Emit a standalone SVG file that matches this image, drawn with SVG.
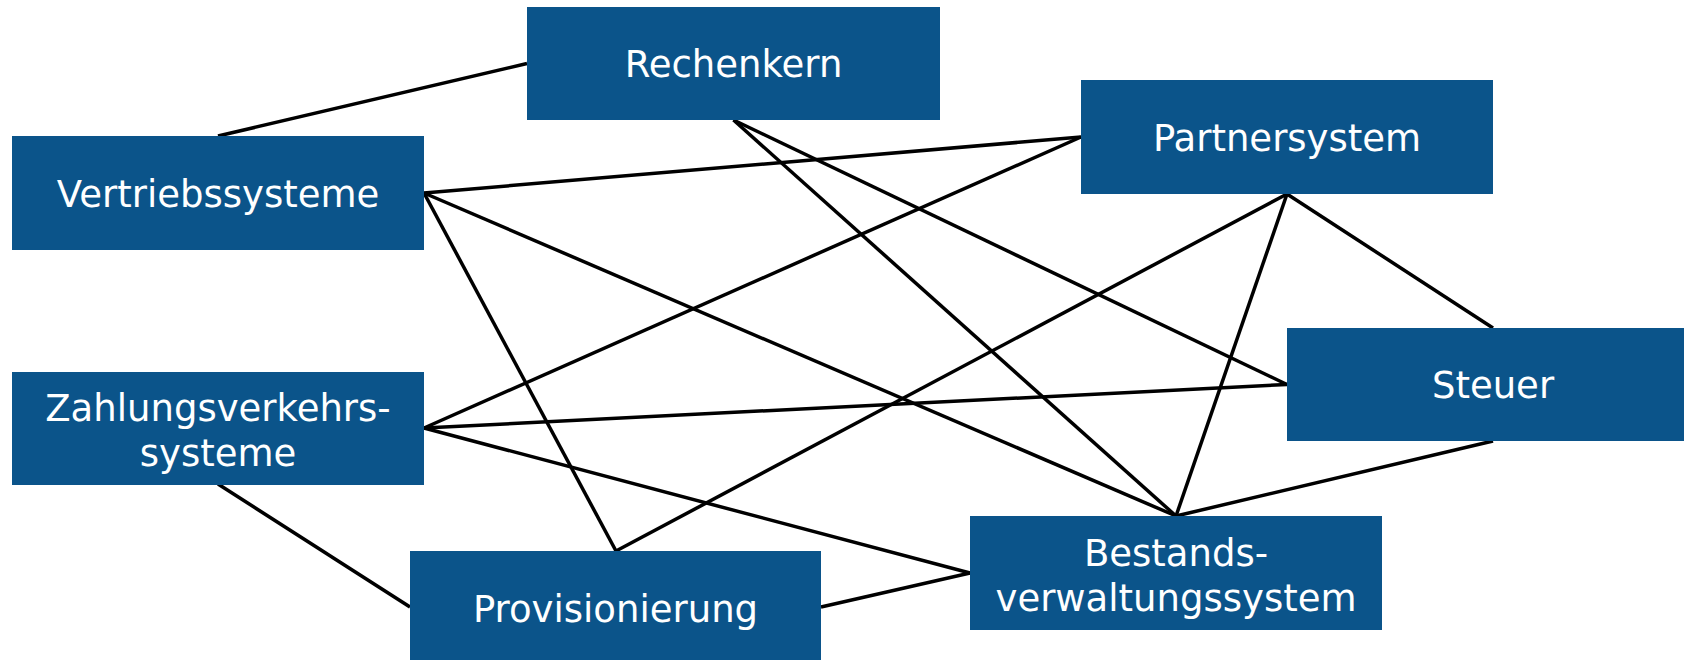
<svg xmlns="http://www.w3.org/2000/svg" width="1684" height="660" viewBox="0 0 1684 660">
<style>
.box{fill:#0b548a}
.lbl{fill:#ffffff;font-family:"DejaVu Sans","Verdana",sans-serif;font-size:37px;text-anchor:middle}
.c line{stroke:#000;stroke-width:3.5;stroke-linecap:butt}
</style>
<rect width="1684" height="660" fill="#ffffff"/>
<g class="c" id="connectors">
<line x1="218" y1="136" x2="527" y2="63.5"/>
<line x1="424" y1="193" x2="1081" y2="137"/>
<line x1="424" y1="193" x2="1176" y2="516"/>
<line x1="424" y1="193" x2="616" y2="551"/>
<line x1="733.5" y1="120" x2="1176" y2="516"/>
<line x1="733.5" y1="120" x2="1287" y2="384.5"/>
<line x1="1081" y1="137" x2="424" y2="428"/>
<line x1="1287" y1="194" x2="616" y2="551"/>
<line x1="1287" y1="194" x2="1176" y2="516"/>
<line x1="1287" y1="194" x2="1493" y2="328"/>
<line x1="424" y1="428" x2="1287" y2="384.5"/>
<line x1="424" y1="428" x2="970" y2="573"/>
<line x1="218" y1="484" x2="410" y2="607"/>
<line x1="821" y1="607" x2="970" y2="573"/>
<line x1="1493" y1="441" x2="1176" y2="516"/>
</g>
<g id="rechenkern"><rect class="box" x="527" y="7" width="413" height="113"/><text class="lbl" x="733.5" y="77">Rechenkern</text></g>
<g id="partnersystem"><rect class="box" x="1081" y="80" width="412" height="114"/><text class="lbl" x="1287" y="151">Partnersystem</text></g>
<g id="vertriebssysteme"><rect class="box" x="12" y="136" width="412" height="114"/><text class="lbl" x="218" y="207">Vertriebssysteme</text></g>
<g id="zahlungsverkehrssysteme"><rect class="box" x="12" y="372" width="412" height="113"/><text class="lbl" x="218" y="421">Zahlungsverkehrs-</text><text class="lbl" x="218" y="466">systeme</text></g>
<g id="steuer"><rect class="box" x="1287" y="328" width="412" height="113"/><text class="lbl" x="1493" y="398">Steuer</text></g>
<g id="bestandsverwaltungssystem"><rect class="box" x="970" y="516" width="412" height="114"/><text class="lbl" x="1176" y="566">Bestands-</text><text class="lbl" x="1176" y="611">verwaltungssystem</text></g>
<g id="provisionierung"><rect class="box" x="410" y="551" width="411" height="112"/><text class="lbl" x="615.5" y="622">Provisionierung</text></g>
</svg>
